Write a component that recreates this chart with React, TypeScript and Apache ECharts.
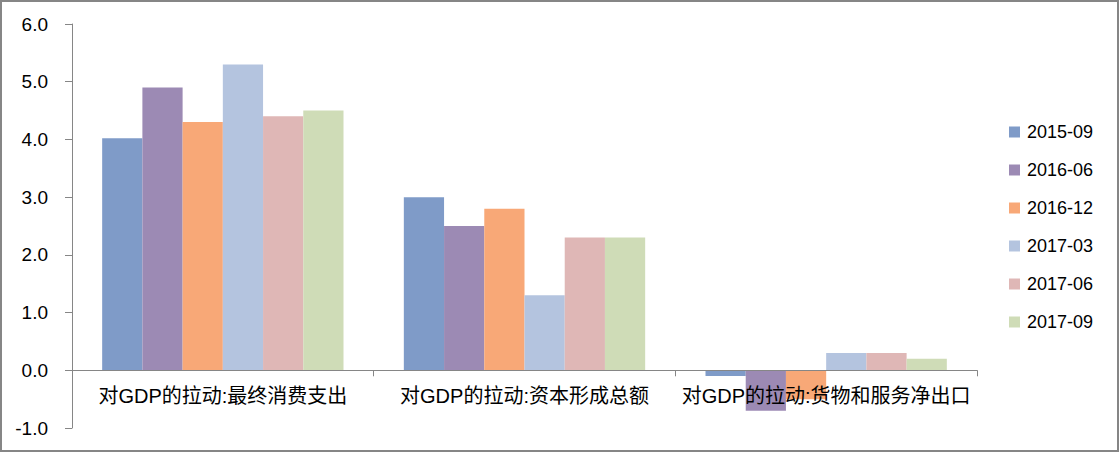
import React, { useEffect, useRef } from "react";
import * as echarts from "echarts";

const categories = ["对GDP的拉动:最终消费支出", "对GDP的拉动:资本形成总额", "对GDP的拉动:货物和服务净出口"];
const seriesNames = ["2015-09", "2016-06", "2016-12", "2017-03", "2017-06", "2017-09"];
const s201509 = [4.02, 3.0, -0.1];
const s201606 = [4.9, 2.5, -0.7];
const s201612 = [4.3, 2.8, -0.5];
const s201703 = [5.3, 1.3, 0.3];
const s201706 = [4.4, 2.3, 0.3];
const s201709 = [4.5, 2.3, 0.2];
const seriesValues = [s201509, s201606, s201612, s201703, s201706, s201709];
const colors = ["#7F9BC8", "#9C8AB4", "#F8A877", "#B4C4DF", "#DFB7B6", "#CFDCB7"];

const FONT = "'Liberation Sans', 'Noto Sans CJK SC', sans-serif";
const Y_MIN = -1;
const Y_MAX = 6;
const GRID_TOP = 24;
const GRID_BOTTOM = 24;
const HEIGHT = 452;

export default function App() {
  const ref = useRef<HTMLDivElement>(null);
  useEffect(() => {
    const chart = echarts.init(ref.current!, null, { renderer: "svg" });
    const unitPx = (HEIGHT - GRID_TOP - GRID_BOTTOM) / (Y_MAX - Y_MIN);
    chart.setOption({
      animation: false,
      textStyle: { fontFamily: FONT },
      grid: { left: 72, right: 142, top: GRID_TOP, bottom: GRID_BOTTOM, containLabel: false, outerBoundsMode: "none" },
      legend: {
        orient: "vertical",
        left: 1004,
        top: 118,
        itemWidth: 11,
        itemHeight: 11,
        itemGap: 20,
        icon: "rect",
        textStyle: { fontSize: 18, color: "#000", fontFamily: FONT, padding: [0, 0, 0, 2] },
        data: seriesNames,
      },
      xAxis: {
        type: "category",
        data: categories,
        z: 5,
        offset: -(0 - Y_MIN) * unitPx,
        axisLine: { onZero: false, lineStyle: { color: "#868686", width: 1 } },
        axisTick: { show: true, length: 6, lineStyle: { color: "#868686" } },
        axisLabel: { fontSize: 20, color: "#000", margin: 16, interval: 0, fontFamily: FONT },
      },
      yAxis: {
        type: "value",
        min: Y_MIN,
        max: Y_MAX,
        interval: 1,
        splitLine: { show: false },
        axisLine: { show: true, lineStyle: { color: "#868686", width: 1 } },
        axisTick: { show: true, length: 7, lineStyle: { color: "#868686" } },
        axisLabel: {
          fontSize: 19,
          color: "#000",
          margin: 24,
          fontFamily: FONT,
          formatter: (v: number) => v.toFixed(1),
        },
      },
      series: seriesNames.map((name, i) => ({
        name,
        type: "bar",
        data: seriesValues[i],
        barGap: "0%",
        barCategoryGap: "20%",
        itemStyle: { color: colors[i] },
      })),
    });
    return () => chart.dispose();
  }, []);
  return (
    <div
      style={{
        position: "absolute",
        left: 0,
        top: 0,
        width: 1119,
        height: HEIGHT,
        boxSizing: "border-box",
        border: "2px solid #868686",
        background: "#fff",
      }}
    >
      <div ref={ref} style={{ position: "absolute", left: -2, top: -2, width: 1119, height: HEIGHT }} />
    </div>
  );
}
